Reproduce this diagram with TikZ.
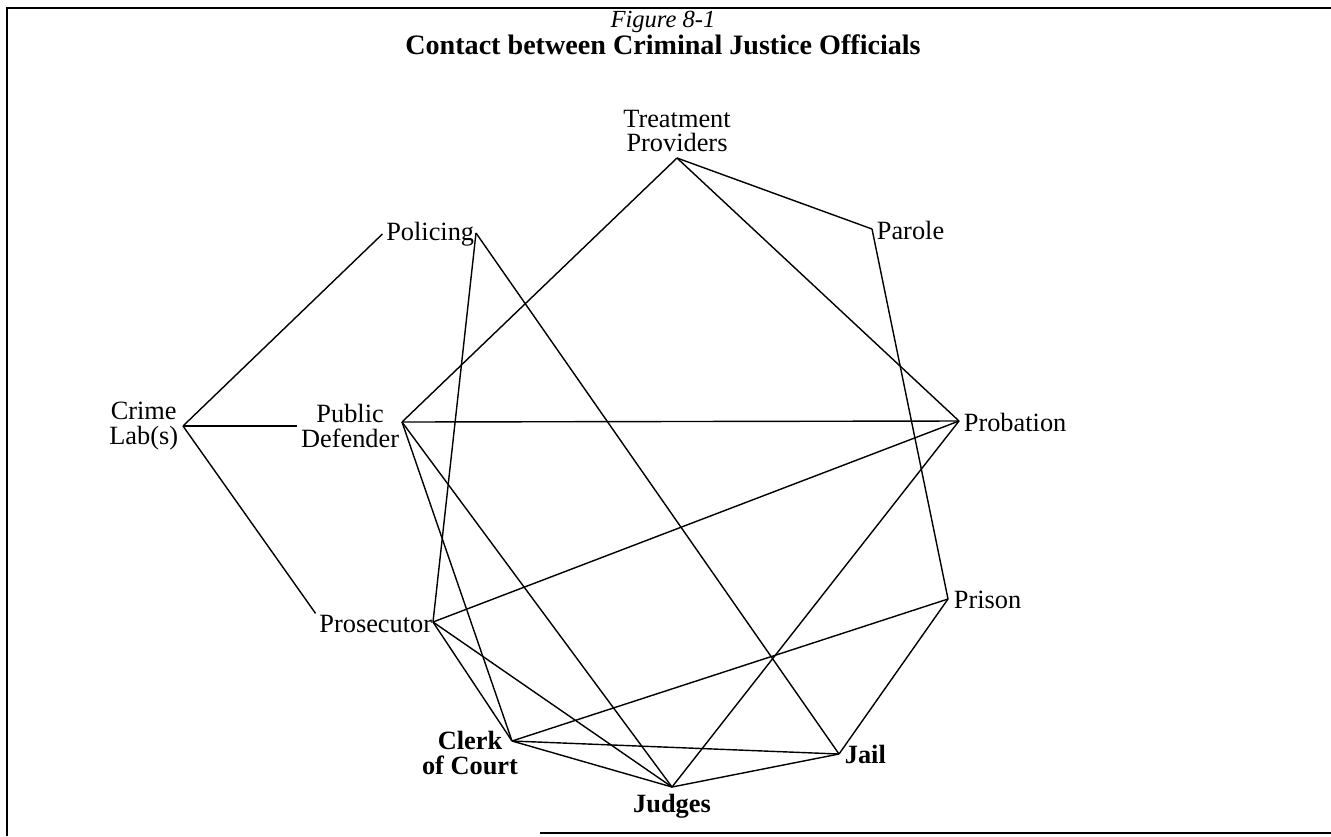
\documentclass[tikz,border=0pt]{standalone}
\usepackage{fontspec}
\setmainfont{Liberation Serif}
\tikzset{
  lbl/.style={font=\fontsize{15}{14}\selectfont, inner sep=2pt, align=center},
  blbl/.style={lbl, font=\fontsize{15}{14}\selectfont\bfseries},
  link/.style={line width=0.8pt},
}
\begin{document}
\begin{tikzpicture}[x=0.02cm, y=-0.02cm]
\useasboundingbox (0,0) rectangle (1331,836);
\draw[line width=1pt] (1331,8) -- (7,8) -- (7,836);
\draw[line width=1pt] (540,833) -- (1331,833);
\node (fig) at (663,22) {\fontsize{14}{14}\selectfont\itshape Figure 8-1};
\node (title) at (663,45) {\fontsize{16}{16}\selectfont\bfseries Contact between Criminal Justice Officials};
\coordinate (treatV) at (677,158);
\coordinate (paroleV) at (872,229);
\coordinate (policingV) at (476,233);
\coordinate (crimeV) at (183,426);
\coordinate (pdV) at (402,422);
\coordinate (probV) at (959,421);
\coordinate (prosV) at (433,622);
\coordinate (prisonV) at (948,599);
\coordinate (clerkV) at (512,741);
\coordinate (judgesV) at (672,787);
\coordinate (jailV) at (839,754);
\node[lbl, anchor=south] (treat) at (677,156) {Treatment\\Providers};
\node[lbl, anchor=west] (parole) at (873,230) {Parole};
\node[lbl, anchor=east] (policing) at (478,234) {Policing};
\node[lbl, anchor=east] (crime) at (182,426) {Crime\\Lab(s)};
\node[lbl, anchor=east] (pd) at (403,426) {Public\\Defender};
\node[lbl, anchor=west] (prob) at (960,422) {Probation};
\node[lbl, anchor=east] (pros) at (436,624) {Prosecutor};
\node[lbl, anchor=west] (prison) at (950,600) {Prison};
\node[blbl] (clerk) at (470,753) {Clerk\\of Court};
\node[blbl, anchor=north] (judges) at (672,790) {Judges};
\node[blbl, anchor=west] (jail) at (841,754) {Jail};
\draw[link] (crimeV) -- (policing.west);
\draw[link] (crimeV) -- (pd.west);
\draw[link] (crimeV) -- (pros.170);
\draw[link] (treatV) -- (paroleV);
\draw[link] (treatV) -- (probV);
\draw[link] (treatV) -- (pdV);
\draw[link] (paroleV) -- (prisonV);
\draw[link] (policingV) -- (prosV);
\draw[link] (policingV) -- (jailV);
\draw[link] (pdV) -- (probV);
\draw[link] (pdV) -- (clerkV);
\draw[link] (pdV) -- (judgesV);
\draw[link] (prosV) -- (probV);
\draw[link] (prosV) -- (clerkV);
\draw[link] (prosV) -- (judgesV);
\draw[link] (clerkV) -- (prisonV);
\draw[link] (clerkV) -- (jailV);
\draw[link] (clerkV) -- (judgesV);
\draw[link] (judgesV) -- (jailV);
\draw[link] (judgesV) -- (probV);
\draw[link] (prisonV) -- (jailV);
\end{tikzpicture}
\end{document}
